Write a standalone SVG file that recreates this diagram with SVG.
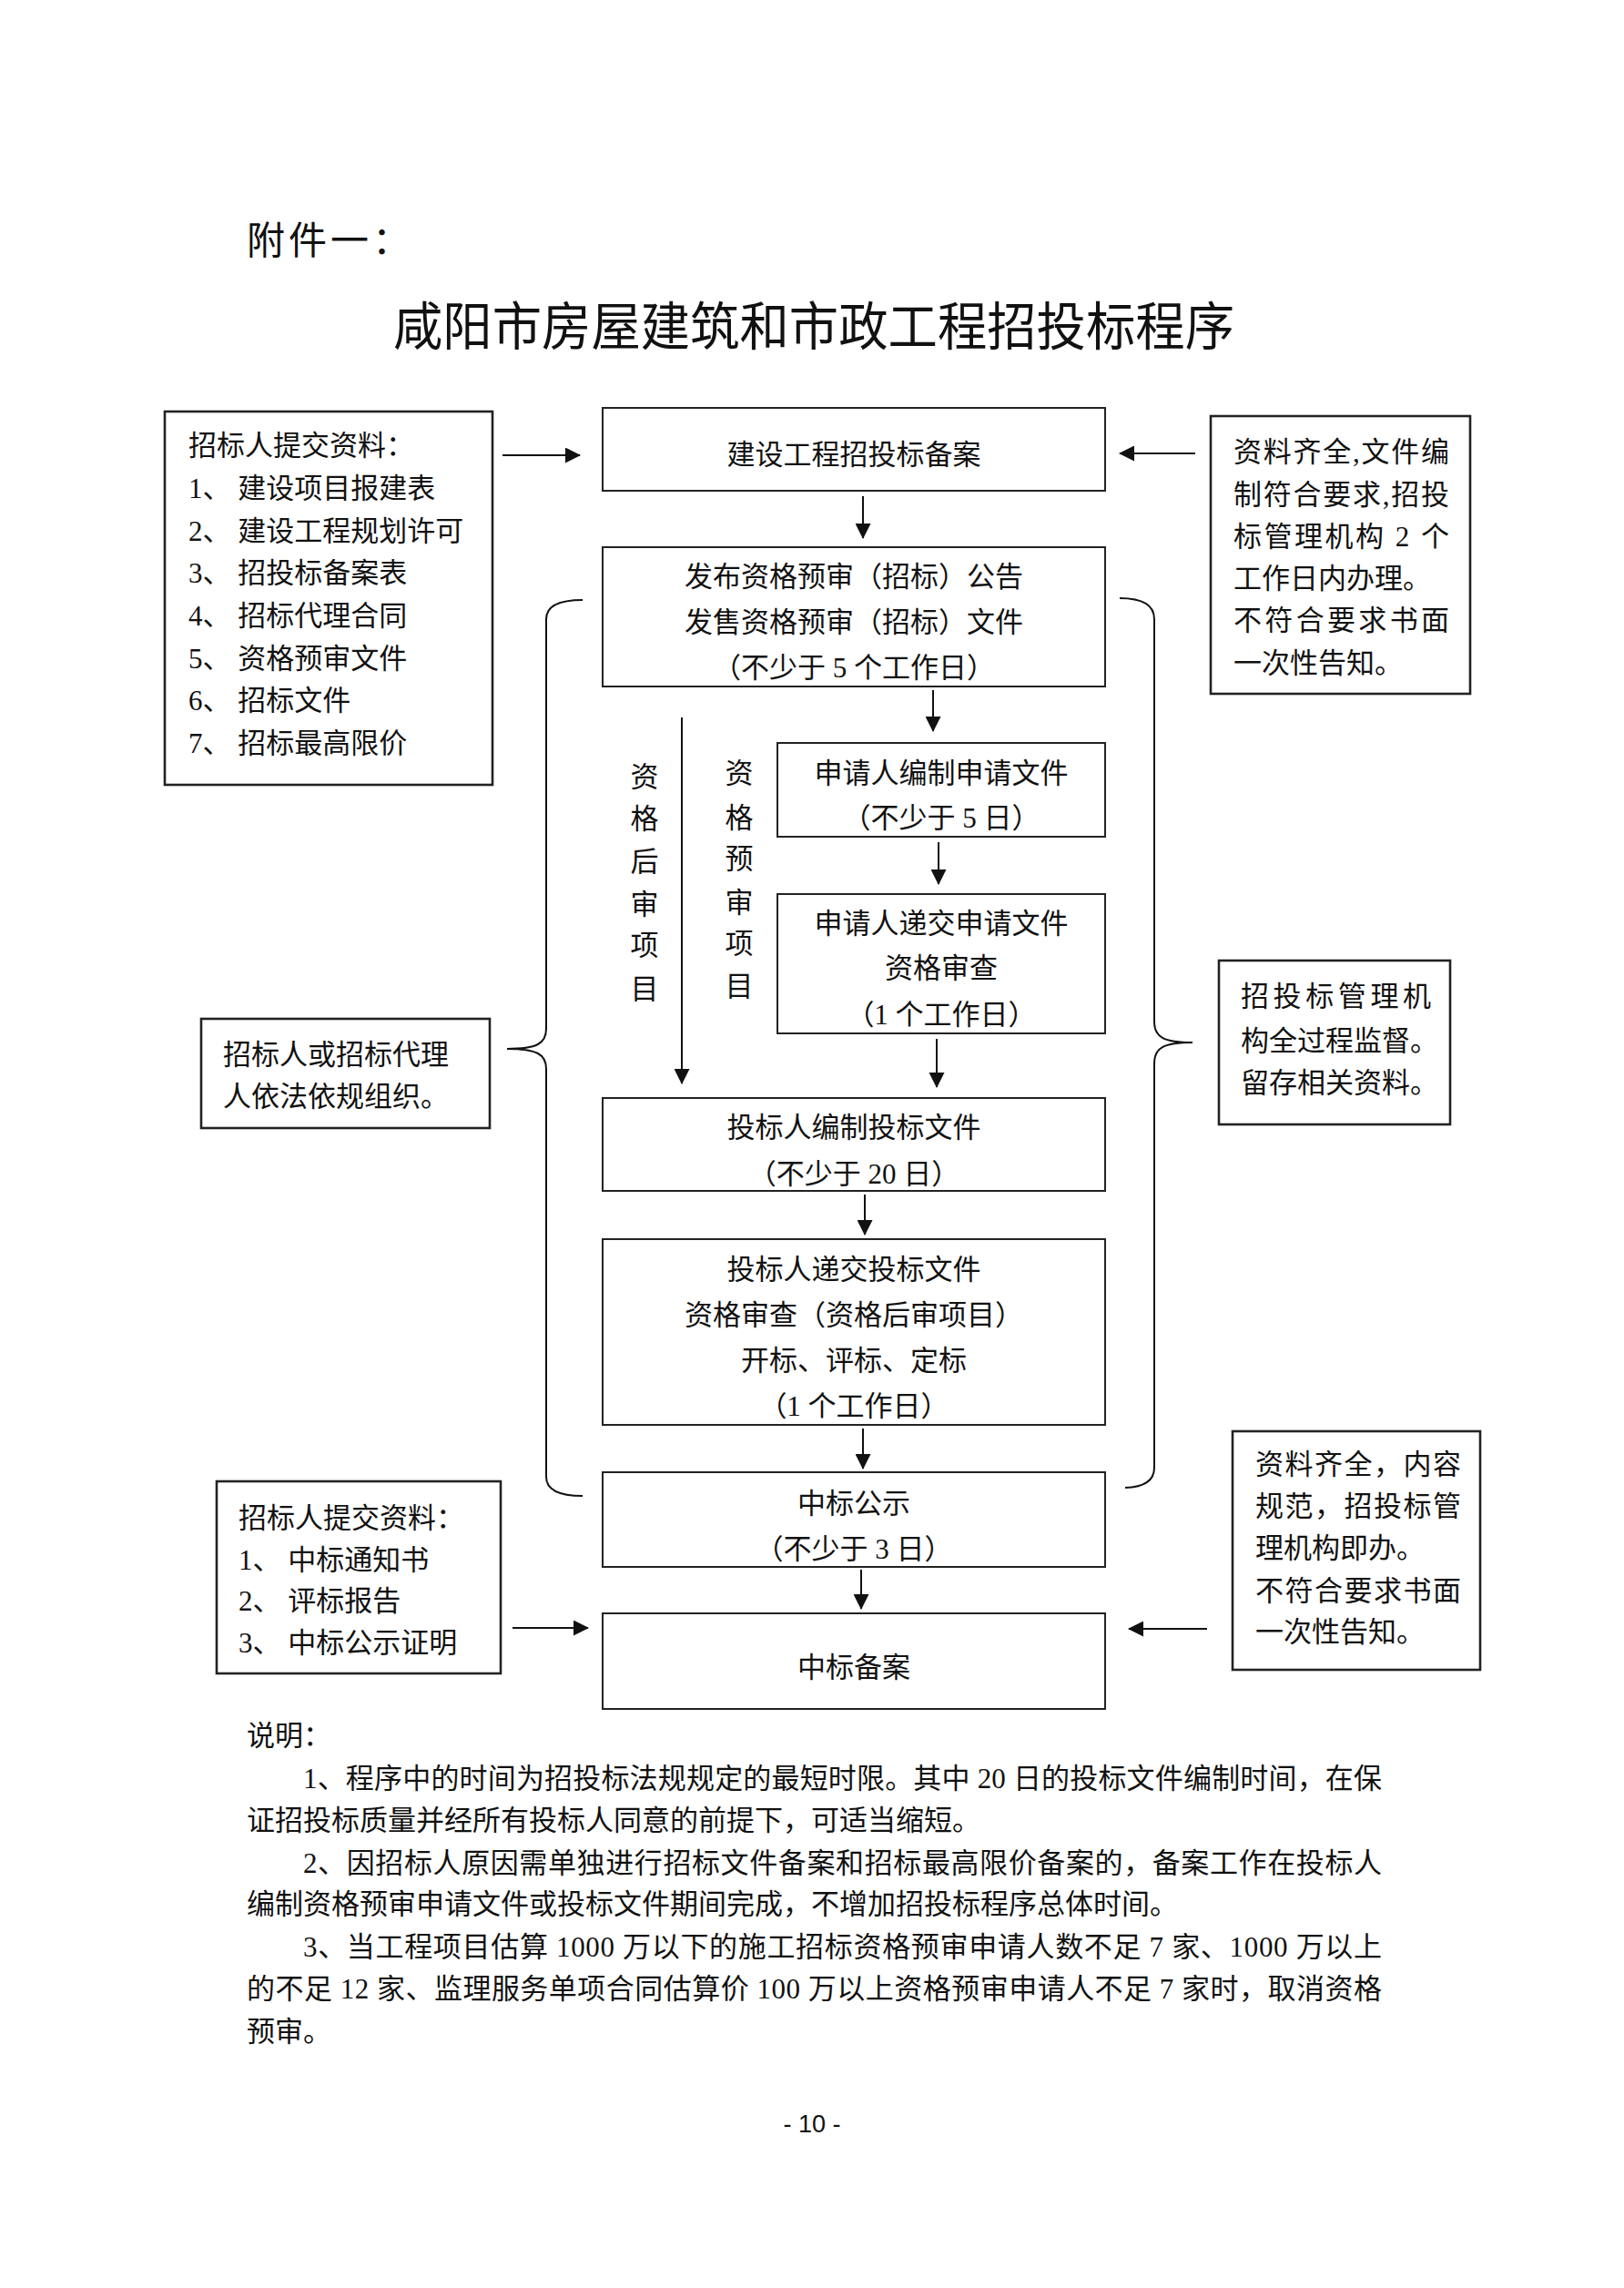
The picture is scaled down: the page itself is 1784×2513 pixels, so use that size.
<svg xmlns="http://www.w3.org/2000/svg" width="1784" height="2513" viewBox="0 0 1784 2513">
<style>
text{font-family:"Liberation Serif","Noto Sans CJK SC",serif;font-size:31px;fill:#111}
.mid{text-anchor:middle}
.box{fill:none;stroke:#222;stroke-width:2}
.side{fill:none;stroke:#222;stroke-width:2.6}
.con{fill:none;stroke:#111;stroke-width:2}
.arr{fill:none;stroke:#111;stroke-width:2;marker-end:url(#ah)}
</style>
<defs>
<marker id="ah" markerUnits="userSpaceOnUse" markerWidth="17" markerHeight="17" viewBox="0 0 17 17" refX="16" refY="8.5" orient="auto"><path d="M0,0 L17,8.5 L0,17 Z" fill="#111"/></marker>
</defs>
<rect width="1784" height="2513" fill="#fff"/>

<g id="header">
<text x="271" y="279" style="font-size:42px;letter-spacing:4px">附件一：</text>
<text x="432" y="379" style="font-size:57px" textLength="924" lengthAdjust="spacingAndGlyphs">咸阳市房屋建筑和市政工程招投标程序</text>
</g>

<g id="n-submit1">
<rect x="181" y="452" width="360" height="410" class="side"/>
<text x="207" y="500">招标人提交资料：</text>
<text x="207" y="547">1、 建设项目报建表</text>
<text x="207" y="594">2、 建设工程规划许可</text>
<text x="207" y="640">3、 招投标备案表</text>
<text x="207" y="687">4、 招标代理合同</text>
<text x="207" y="734">5、 资格预审文件</text>
<text x="207" y="780">6、 招标文件</text>
<text x="207" y="827">7、 招标最高限价</text>
</g>

<g id="n-record">
<rect x="662" y="448" width="552" height="91" class="box"/>
<text x="938" y="510" class="mid">建设工程招投标备案</text>
</g>

<g id="n-check1">
<rect x="1330" y="457" width="285" height="305" class="side"/>
<text x="1355" y="507" textLength="237" lengthAdjust="spacing">资料齐全,文件编</text>
<text x="1355" y="554" textLength="237" lengthAdjust="spacing">制符合要求,招投</text>
<text x="1355" y="600" textLength="237" lengthAdjust="spacing">标管理机构 2 个</text>
<text x="1355" y="646">工作日内办理。</text>
<text x="1355" y="692" textLength="237" lengthAdjust="spacing">不符合要求书面</text>
<text x="1355" y="739">一次性告知。</text>
</g>

<g id="n-publish">
<rect x="662" y="601" width="552" height="153" class="box"/>
<text x="938" y="644" class="mid">发布资格预审（招标）公告</text>
<text x="938" y="694" class="mid">发售资格预审（招标）文件</text>
<text x="938" y="744" class="mid">（不少于 5 个工作日）</text>
</g>

<g id="n-label-post">
<text x="708" y="864" class="mid">资</text>
<text x="708" y="910" class="mid">格</text>
<text x="708" y="957" class="mid">后</text>
<text x="708" y="1004" class="mid">审</text>
<text x="708" y="1049" class="mid">项</text>
<text x="708" y="1097" class="mid">目</text>
</g>

<g id="n-label-pre">
<text x="812" y="860" class="mid">资</text>
<text x="812" y="909" class="mid">格</text>
<text x="812" y="954" class="mid">预</text>
<text x="812" y="1002" class="mid">审</text>
<text x="812" y="1047" class="mid">项</text>
<text x="812" y="1094" class="mid">目</text>
</g>

<g id="n-apply">
<rect x="854" y="816" width="360" height="103" class="box"/>
<text x="1034" y="860" class="mid">申请人编制申请文件</text>
<text x="1034" y="909" class="mid">（不少于 5 日）</text>
</g>

<g id="n-submitapply">
<rect x="854" y="982" width="360" height="153" class="box"/>
<text x="1034" y="1025" class="mid">申请人递交申请文件</text>
<text x="1034" y="1074" class="mid">资格审查</text>
<text x="1034" y="1125" class="mid">（1 个工作日）</text>
</g>

<g id="n-organize">
<rect x="221" y="1119" width="317" height="120" class="side"/>
<text x="245" y="1169">招标人或招标代理</text>
<text x="245" y="1215">人依法依规组织。</text>
</g>

<g id="n-supervise">
<rect x="1339" y="1055" width="254" height="180" class="side"/>
<text x="1363" y="1105" textLength="209" lengthAdjust="spacing">招投标管理机</text>
<text x="1363" y="1154">构全过程监督。</text>
<text x="1363" y="1200">留存相关资料。</text>
</g>

<g id="n-bidprep">
<rect x="662" y="1206" width="552" height="102" class="box"/>
<text x="938" y="1249" class="mid">投标人编制投标文件</text>
<text x="938" y="1300" class="mid">（不少于 20 日）</text>
</g>

<g id="n-bidsubmit">
<rect x="662" y="1361" width="552" height="204" class="box"/>
<text x="938" y="1405" class="mid">投标人递交投标文件</text>
<text x="938" y="1455" class="mid">资格审查（资格后审项目）</text>
<text x="938" y="1505" class="mid">开标、评标、定标</text>
<text x="938" y="1555" class="mid">（1 个工作日）</text>
</g>

<g id="n-publicity">
<rect x="662" y="1617" width="552" height="104" class="box"/>
<text x="938" y="1662" class="mid">中标公示</text>
<text x="938" y="1712" class="mid">（不少于 3 日）</text>
</g>

<g id="n-submit2">
<rect x="238" y="1627" width="312" height="211" class="side"/>
<text x="262" y="1678">招标人提交资料：</text>
<text x="262" y="1724">1、 中标通知书</text>
<text x="262" y="1769">2、 评标报告</text>
<text x="262" y="1815">3、 中标公示证明</text>
</g>

<g id="n-check2">
<rect x="1354" y="1572" width="272" height="262" class="side"/>
<text x="1379" y="1619" textLength="226" lengthAdjust="spacing">资料齐全，内容</text>
<text x="1379" y="1665" textLength="226" lengthAdjust="spacing">规范，招投标管</text>
<text x="1379" y="1711">理机构即办。</text>
<text x="1379" y="1758" textLength="226" lengthAdjust="spacing">不符合要求书面</text>
<text x="1379" y="1803">一次性告知。</text>
</g>

<g id="n-award">
<rect x="662" y="1772" width="552" height="105" class="box"/>
<text x="938" y="1842" class="mid">中标备案</text>
</g>

<g id="connectors">
<path class="arr" d="M552,500 H637"/>
<path class="arr" d="M1313,498 H1230"/>
<path class="arr" d="M948,545 V591"/>
<path class="arr" d="M1025,758 V803"/>
<path class="arr" d="M1031,925 V971"/>
<path class="arr" d="M1029,1141 V1194"/>
<path class="arr" d="M749,788 V1190"/>
<path class="arr" d="M950,1312 V1356"/>
<path class="arr" d="M948,1569 V1613"/>
<path class="arr" d="M946,1724 V1767"/>
<path class="arr" d="M563,1788 H646"/>
<path class="arr" d="M1326,1789 H1240"/>
<path class="con" d="M640,659 Q600,659 600,680 L600,1130 C600,1146 590,1152 557,1152 C590,1152 600,1158 600,1174 L600,1622 Q600,1643 640,1643"/>
<path class="con" d="M1230,657 Q1268,657 1268,680 L1268,1122 C1268,1139 1278,1145 1310,1145 C1278,1145 1268,1151 1268,1168 L1268,1612 Q1268,1633 1236,1634"/>
</g>

<g id="notes">
<text x="271" y="1917">说明：</text>
<text x="333" y="1964" textLength="1185" lengthAdjust="spacing">1、程序中的时间为招投标法规规定的最短时限。其中 20 日的投标文件编制时间，在保</text>
<text x="271" y="2010">证招投标质量并经所有投标人同意的前提下，可适当缩短。</text>
<text x="333" y="2057" textLength="1185" lengthAdjust="spacing">2、因招标人原因需单独进行招标文件备案和招标最高限价备案的，备案工作在投标人</text>
<text x="271" y="2102">编制资格预审申请文件或投标文件期间完成，不增加招投标程序总体时间。</text>
<text x="333" y="2149" textLength="1185" lengthAdjust="spacing">3、当工程项目估算 1000 万以下的施工招标资格预审申请人数不足 7 家、1000 万以上</text>
<text x="271" y="2195" textLength="1247" lengthAdjust="spacing">的不足 12 家、监理服务单项合同估算价 100 万以上资格预审申请人不足 7 家时，取消资格</text>
<text x="271" y="2242">预审。</text>
</g>

<g id="footer">
<text x="892" y="2342" class="mid" style="font-family:'Liberation Sans',sans-serif;font-size:27px">- 10 -</text>
</g>
</svg>
